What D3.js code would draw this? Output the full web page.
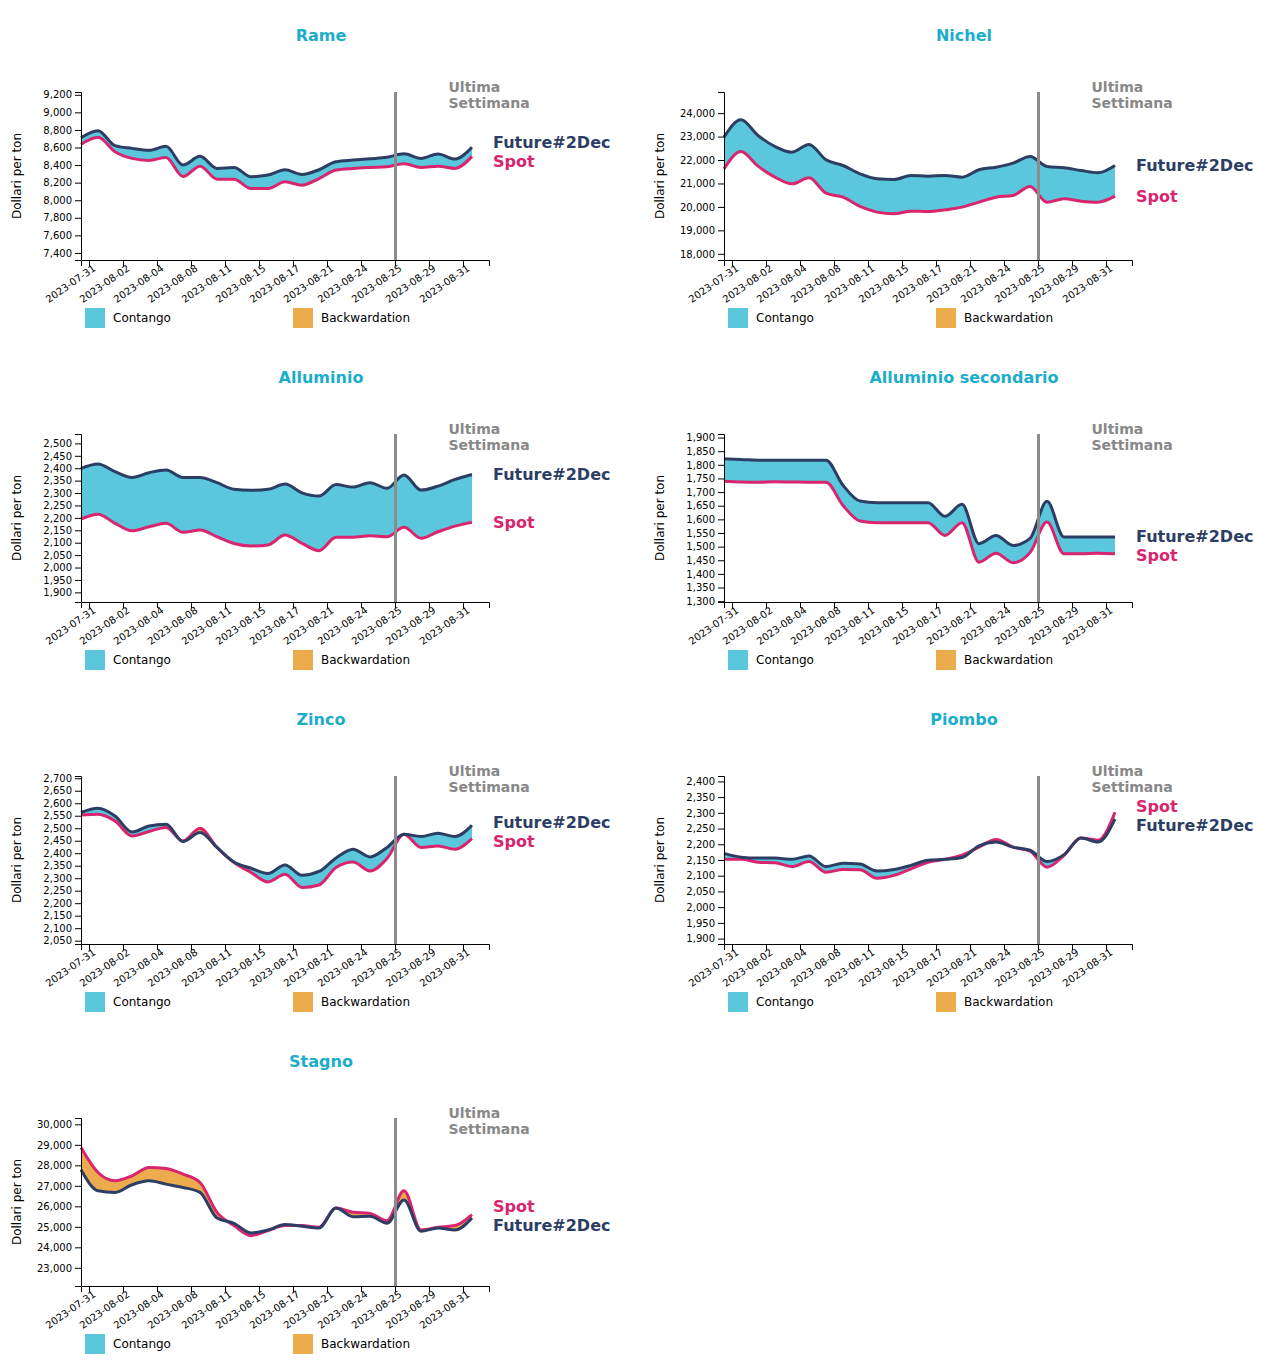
<!DOCTYPE html>
<html>
<head>
<meta charset="utf-8">
<script src="https://cdn.jsdelivr.net/npm/d3@7"></script>
<style>
  body { margin: 0; background: #fff; font-family: "DejaVu Sans", sans-serif; }
  svg text { font-family: "DejaVu Sans", sans-serif; }
</style>
</head>
<body>
<svg id="chart" width="1283" height="1360"></svg>
<script>
// ---------------- DATA ----------------
const xTickLabels = ["2023-07-31","2023-08-02","2023-08-04","2023-08-08","2023-08-11","2023-08-15",
                     "2023-08-17","2023-08-21","2023-08-24","2023-08-25","2023-08-29","2023-08-31"];
const pointCount = 24;            // trading-day points per series
const lastWeekLabel = "2023-08-25";
const titles = ["Rame","Nichel","Alluminio","Alluminio secondario","Zinco","Piombo","Stagno"];
const seriesNames = ["Future#2Dec","Spot"];
const legendNames = ["Contango","Backwardation"];
const yAxisLabel = "Dollari per ton";
const lastWeekText = ["Ultima","Settimana"];

const rameFuture = [8712,8792,8621,8590,8568,8613,8400,8499,8362,8373,8267,8286,8347,8293,8347,8438,8457,8472,8488,8529,8476,8526,8468,8602];
const rameSpot   = [8636,8716,8552,8476,8453,8487,8270,8388,8240,8240,8133,8133,8209,8171,8247,8343,8362,8373,8381,8415,8373,8388,8362,8499];

const nichelFuture = [22976,23716,23047,22578,22336,22663,22009,21767,21412,21199,21170,21341,21312,21341,21270,21583,21696,21867,22151,21725,21668,21554,21455,21767];
const nichelSpot   = [21625,22365,21739,21270,20985,21241,20587,20416,20018,19777,19706,19820,19805,19876,19990,20203,20416,20488,20872,20203,20345,20246,20203,20459];

const allFuture = [2399,2417,2386,2363,2382,2393,2363,2363,2342,2315,2311,2315,2336,2301,2288,2334,2324,2342,2319,2373,2312,2328,2355,2375];
const allSpot   = [2195,2215,2178,2148,2164,2178,2142,2151,2124,2097,2087,2091,2131,2097,2068,2122,2122,2128,2124,2162,2118,2144,2167,2182];

const allSecFuture = [1822,1820,1817,1817,1817,1817,1817,1725,1667,1661,1661,1661,1661,1611,1655,1511,1541,1504,1530,1666,1535,1535,1535,1535];
const allSecSpot   = [1740,1737,1736,1738,1737,1736,1736,1651,1594,1588,1588,1588,1588,1541,1588,1443,1476,1441,1478,1590,1474,1474,1476,1474];

const zincoFuture = [2563,2580,2549,2485,2509,2516,2447,2483,2423,2365,2340,2319,2353,2312,2327,2381,2416,2385,2423,2476,2467,2480,2467,2512];
const zincoSpot   = [2553,2556,2529,2469,2487,2503,2449,2500,2423,2363,2323,2285,2316,2263,2273,2343,2365,2329,2379,2476,2423,2429,2416,2459];

const piomboFuture = [2171,2159,2156,2156,2152,2163,2129,2140,2137,2115,2120,2133,2149,2152,2158,2195,2207,2191,2181,2145,2167,2220,2207,2280];
const piomboSpot   = [2152,2152,2143,2141,2129,2145,2111,2120,2119,2092,2101,2122,2143,2152,2165,2191,2215,2191,2178,2127,2165,2220,2213,2302];

const stagnoFuture = [27781,26760,26679,27051,27246,27084,26922,26679,25432,25173,24703,24848,25108,25027,24946,25917,25496,25513,25173,26307,24784,24946,24848,25432];
const stagnoSpot   = [28866,27650,27246,27490,27895,27845,27570,27165,25707,25060,24570,24816,25060,25060,24980,25917,25707,25656,25300,26760,24848,24980,25060,25594];

const futures = [rameFuture, nichelFuture, allFuture, allSecFuture, zincoFuture, piomboFuture, stagnoFuture];
const spots   = [rameSpot, nichelSpot, allSpot, allSecSpot, zincoSpot, piomboSpot, stagnoSpot];

// ---------------- STYLE / LAYOUT ----------------
const colors = {
  title: "#1badca", future: "#2d3e64", spot: "#d9256e",
  contango: "#5ac7dc", backwardation: "#ecac4e", marker: "#8c8c8c", markerText: "#888888"
};
const panelW = 643, panelH = 342;
const m = { left: 81, top: 92, width: 408, height: 168 };

const svg = d3.select("#chart");

titles.forEach((title, k) => {
  const col = k % 2, row = Math.floor(k / 2);
  const g = svg.append("g").attr("transform", `translate(${col * panelW},${row * panelH})`);
  const fut = futures[k], spot = spots[k];
  const data = d3.range(pointCount).map(i => ({ i, f: fut[i], s: spot[i] }));

  const x = d3.scaleBand().domain(d3.range(pointCount)).range([m.left, m.left + m.width]);
  const lo = d3.min(data, d => Math.min(d.f, d.s)), hi = d3.max(data, d => Math.max(d.f, d.s));
  const y = d3.scaleLinear().domain([lo * 0.9, hi * 1.05]).range([m.top + m.height, m.top]);
  const top = m.top, bottom = m.top + m.height;

  // title
  g.append("text").attr("x", 321).attr("y", 40.5).attr("text-anchor", "middle")
    .attr("font-size", 16).attr("font-weight", "bold").attr("fill", colors.title).text(title);

  // clip paths
  const curve = d3.curveMonotoneX;
  const px = d => x(d.i);
  g.append("clipPath").attr("id", `above${k}`).append("path")
    .attr("d", d3.area().curve(curve).x(px).y0(top - 5).y1(d => y(d.s))(data));
  g.append("clipPath").attr("id", `below${k}`).append("path")
    .attr("d", d3.area().curve(curve).x(px).y0(bottom + 5).y1(d => y(d.s))(data));

  const between = d3.area().curve(curve).x(px).y0(d => y(d.s)).y1(d => y(d.f));
  g.append("path").attr("d", between(data)).attr("fill", colors.contango).attr("clip-path", `url(#above${k})`);
  g.append("path").attr("d", between(data)).attr("fill", colors.backwardation).attr("clip-path", `url(#below${k})`);

  // lines
  g.append("path").attr("d", d3.line().curve(curve).x(px).y(d => y(d.s))(data))
    .attr("fill", "none").attr("stroke", colors.spot).attr("stroke-width", 3);
  g.append("path").attr("d", d3.line().curve(curve).x(px).y(d => y(d.f))(data))
    .attr("fill", "none").attr("stroke", colors.future).attr("stroke-width", 3);

  // axes
  const tickIdx = d3.range(0, pointCount, 2);
  const xAxis = g.append("g").attr("transform", `translate(0,${bottom})`)
    .call(d3.axisBottom(x).tickValues(tickIdx).tickFormat(i => xTickLabels[i / 2]));
  xAxis.selectAll("text").attr("text-anchor", "end").attr("dx", "0em").attr("dy", "0.3em")
    .attr("transform", "rotate(-35)");
  g.append("g").attr("transform", `translate(${m.left},0)`).call(d3.axisLeft(y));

  // y label
  g.append("text").attr("transform", `translate(17,${(top + bottom) / 2}) rotate(-90)`)
    .attr("text-anchor", "middle").attr("dy", "0.35em").attr("font-size", 12).attr("fill", "#000")
    .text(yAxisLabel);

  // last-week marker
  const mi = tickIdx[xTickLabels.indexOf(lastWeekLabel)];
  const mx = x(mi) + x.bandwidth() / 2;
  g.append("line").attr("x1", mx).attr("x2", mx).attr("y1", top).attr("y2", bottom)
    .attr("stroke", colors.marker).attr("stroke-width", 3);
  const mt = g.append("text").attr("x", mx + 53).attr("y", 92).attr("font-size", 14)
    .attr("font-weight", "bold").attr("fill", colors.markerText);
  lastWeekText.forEach((t, j) => mt.append("tspan").attr("x", mx + 53).attr("y", 92 + j * 16).text(t));

  // end labels
  const last = data[pointCount - 1];
  let yf = y(last.f), ys = y(last.s);
  const minGap = 19;
  if (Math.abs(yf - ys) < minGap) {
    const c = (yf + ys) / 2, sgn = yf <= ys ? -1 : 1;
    yf = c + sgn * minGap / 2; ys = c - sgn * minGap / 2;
  }
  [[seriesNames[0], yf, colors.future], [seriesNames[1], ys, colors.spot]].forEach(([t, yy, c]) => {
    g.append("text").attr("x", m.left + m.width + 4).attr("y", yy).attr("dy", "0.35em")
      .attr("font-size", 16).attr("font-weight", "bold").attr("fill", c).text(t);
  });

  // legend
  const ly = bottom + 48;
  [[legendNames[0], colors.contango, 85], [legendNames[1], colors.backwardation, 293]].forEach(([t, c, lx]) => {
    g.append("rect").attr("x", lx).attr("y", ly).attr("width", 20).attr("height", 20).attr("fill", c);
    g.append("text").attr("x", lx + 28).attr("y", ly + 10).attr("dy", "0.35em")
      .attr("font-size", 12).attr("fill", "#000").text(t);
  });
});
</script>
</body>
</html>
